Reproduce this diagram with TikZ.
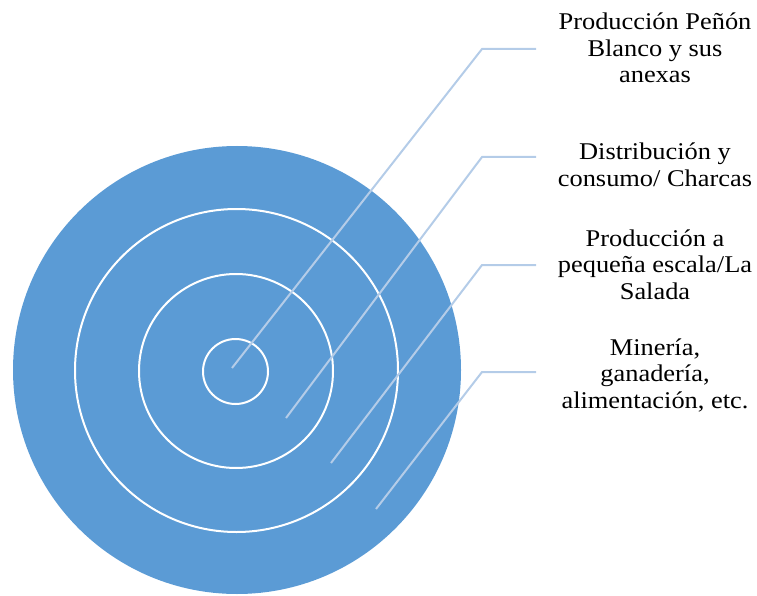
\documentclass[tikz,border=0pt]{standalone}
\usepackage{fontspec}
\setmainfont{Liberation Serif}[FakeStretch=1.1]
\definecolor{ringblue}{HTML}{5B9BD5}
\definecolor{leaderblue}{HTML}{B4CCE8}
\begin{document}
\begin{tikzpicture}[x=1pt,y=-1pt,
  ring/.style={draw=white,line width=2pt},
  leader/.style={draw=leaderblue,line width=2pt,line join=miter},
  lbl/.style={align=center,inner sep=0pt,font=\fontsize{24}{26.5}\selectfont,text=black}]
\useasboundingbox (0,0) rectangle (757,596);
% circles
\fill[ringblue] (237,370) circle (224);
\draw[ring] (236.5,370.5) circle (161.5);
\draw[ring] (236,371) circle (97);
\draw[ring] (235.5,371.5) circle (32.5);
% labels
\node[lbl] (l1) at (655,48) {Producción Peñón\\Blanco y sus\\anexas};
\node[lbl] (l2) at (655,165) {Distribución y\\consumo/ Charcas};
\node[lbl] (l3) at (655,264.5) {Producción a\\pequeña escala/La\\Salada};
\node[lbl] (l4) at (655,375) {Minería,\\ganadería,\\alimentación, etc.};
% leader coordinates
\coordinate (h1) at (536,49);  \coordinate (e1) at (482,49);  \coordinate (t1) at (232,368);
\coordinate (h2) at (536,157); \coordinate (e2) at (482,157); \coordinate (t2) at (286,418);
\coordinate (h3) at (536,265); \coordinate (e3) at (482,265); \coordinate (t3) at (331,463);
\coordinate (h4) at (536,372); \coordinate (e4) at (482,372); \coordinate (t4) at (376,509);
\draw[leader] (h1) -- (e1) -- (t1);
\draw[leader] (h2) -- (e2) -- (t2);
\draw[leader] (h3) -- (e3) -- (t3);
\draw[leader] (h4) -- (e4) -- (t4);
\end{tikzpicture}
\end{document}
